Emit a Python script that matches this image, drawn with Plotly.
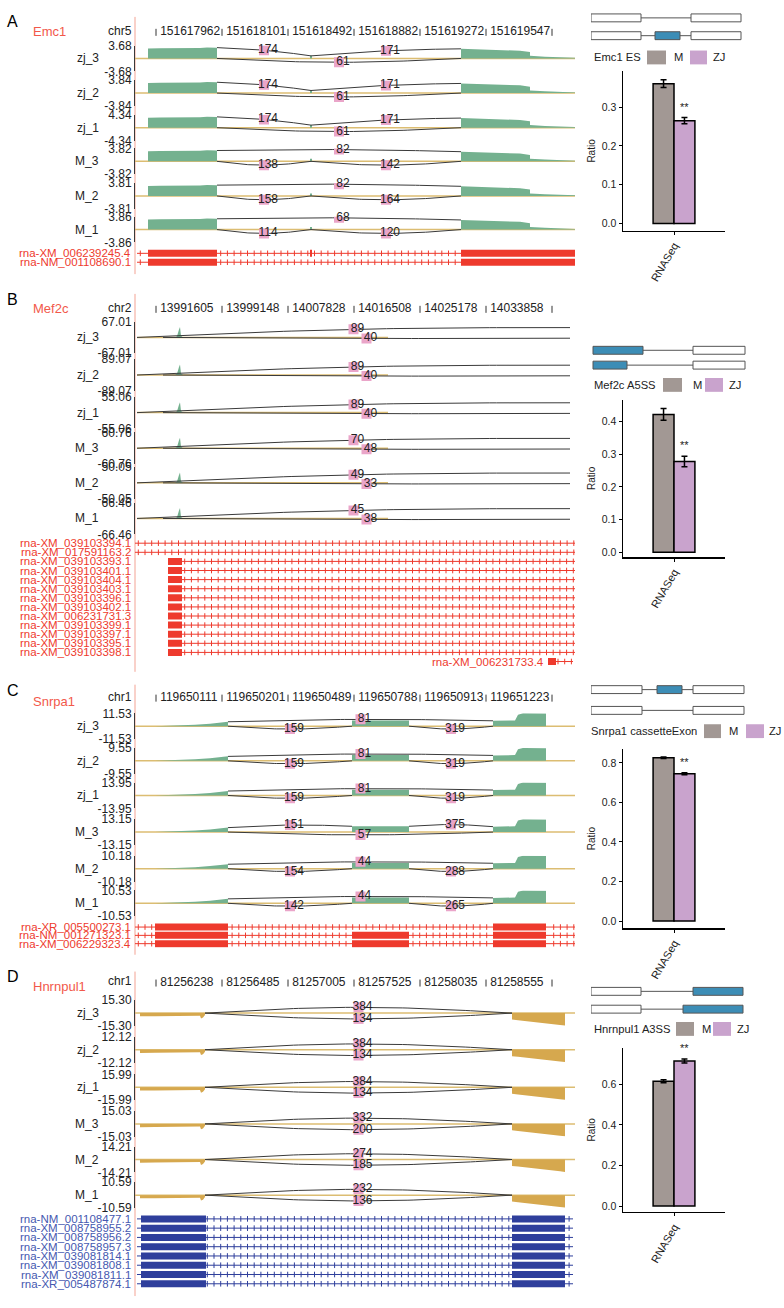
import numpy as np
import plotly.graph_objects as go

W, H = 784, 1308
FONT = "Liberation Sans, Arial, Helvetica, sans-serif"

samples = ["zj_3", "zj_2", "zj_1", "M_3", "M_2", "M_1"]
groups = ["M", "ZJ"]

# ---------------- Panel A : Emc1 (exon skipping) ----------------
A_gene = "Emc1"
A_chrom = "chr5"
A_ticks = ["151617962", "151618101", "151618492", "151618882", "151619272", "151619547", ""]
A_ymax = [3.68, 3.84, 4.34, 3.82, 3.81, 3.86]
A_cov_x = [13, 13, 25, 40, 55, 65, 72, 78, 82, 82, 175, 175, 177, 177, 326, 326, 340, 355, 370, 385, 395, 395, 410, 425, 440]
A_cov_f = [0, .78, .8, .79, .8, .82, .86, .85, .84, 0, 0, .2, .2, 0, 0, .75, .72, .7, .65, .6, .5, .2, .14, .1, .05]
A_junc = [(82, 176), (176, 326), (82, 326)]
A_counts = [[174, 171, 61], [174, 171, 61], [174, 171, 61], [138, 142, 82], [158, 164, 82], [114, 120, 68]]
A_sides = [[1, 1, -1]] * 3 + [[-1, -1, 1]] * 3
A_tx_names = ["rna-XM_006239245.4", "rna-NM_001108690.1"]
A_tx_span = [(2, 440), (2, 440)]
A_tx_exons = [[(13, 82), (175, 177), (326, 440)], [(13, 82), (326, 440)]]
A_event = "Emc1 ES"
A_ratio = [0.360, 0.265]
A_err = [0.010, 0.008]
A_schema = [[(0, 25, 0), (50, 75, 0)], [(0, 25, 0), (32, 44.5, 1), (50, 75, 0)]]

# ---------------- Panel B : Mef2c (A5SS) ----------------
B_gene = "Mef2c"
B_chrom = "chr2"
B_ticks = ["13991605", "13999148", "14007828", "14016508", "14025178", "14033858", ""]
B_ymax = [67.01, 89.07, 55.06, 60.76, 50.05, 66.46]
B_cov_x = [40, 42, 44, 45, 46, 48]
B_cov_f = [0, 0.08, 0.5, 0.66, 0.1, 0]
B_junc = [(2, 435), (28, 435)]
B_junc_h = [(0, 0.62), (0, -0.05)]
B_counts = [[89, 40], [89, 40], [89, 40], [70, 48], [49, 33], [45, 38]]
B_sides = [[1, -1]] * 6
B_tx_names = ["rna-XM_039103394.1", "rna-XM_017591163.2", "rna-XM_039103393.1", "rna-XM_039103401.1",
              "rna-XM_039103404.1", "rna-XM_039103403.1", "rna-XM_039103396.1", "rna-XM_039103402.1",
              "rna-XM_006231731.3", "rna-XM_039103399.1", "rna-XM_039103397.1", "rna-XM_039103395.1",
              "rna-XM_039103398.1", "rna-XM_006231733.4"]
B_tx_span = [(0, 440), (0, 440)] + [(33, 440)] * 11 + [(413, 438)]
B_tx_exons = [[], []] + [[(33, 47)]] * 11 + [[(413, 421)]]
B_tx_label_u = [-3] * 13 + [410]
B_event = "Mef2c A5SS"
B_ratio = [0.422, 0.278]
B_err = [0.018, 0.016]
B_schema = [[(1, 26, 1), (51, 77, 0)], [(1, 18, 1), (51, 77, 0)]]

# ---------------- Panel C : Snrpa1 (cassette exon) ----------------
C_gene = "Snrpa1"
C_chrom = "chr1"
C_ticks = ["119650111", "119650201", "119650489", "119650788", "119650913", "119651223", ""]
C_ymax = [11.53, 9.55, 13.95, 13.15, 10.18, 10.53]
C_cov_x = [20, 40, 60, 75, 88, 93, 93, 217, 217, 245, 274, 274, 358, 358, 380, 383, 388, 411, 411]
C_cov_f = [0, .05, .12, .2, .3, .35, 0, 0, .45, .47, .45, 0, 0, .42, .45, .9, 1.0, .98, 0]
C_junc = [(93, 358), (93, 217), (274, 358)]
C_counts = [[81, 159, 319], [81, 159, 319], [81, 159, 319], [57, 151, 375], [44, 154, 288], [44, 142, 265]]
C_sides = [[1, -1, -1]] * 3 + [[-1, 1, 1], [1, -1, -1], [1, -1, -1]]
C_tx_names = ["rna-XR_005500273.1", "rna-NM_001271323.1", "rna-XM_006229323.4"]
C_tx_span = [(0, 440)] * 3
C_tx_exons = [[(20, 93), (358, 411)], [(20, 93), (217, 274), (358, 411)], [(20, 93), (217, 274), (358, 411)]]
C_event = "Snrpa1 cassetteExon"
C_ratio = [0.826, 0.745]
C_err = [0.004, 0.005]
C_schema = [[(0, 25.5, 0), (33, 45.5, 1), (51, 76.5, 0)], [(0, 25.5, 0), (51, 76.5, 0)]]

# ---------------- Panel D : Hnrnpul1 (A3SS) ----------------
D_gene = "Hnrnpul1"
D_chrom = "chr1"
D_ticks = ["81256238", "81256485", "81257005", "81257525", "81258035", "81258555", ""]
D_ymax = [15.30, 12.12, 15.99, 15.03, 14.21, 10.59]
D_cov_x = [5, 5, 20, 40, 60, 65, 66, 68, 70, 70, 377, 377, 383, 390, 397, 404, 411, 418, 425, 430, 430]
D_cov_f = [0, -.25, -.24, -.2, -.18, -.2, -.42, -.35, -.15, 0, 0, -.5, -.55, -.62, -.68, -.75, -.8, -.86, -.92, -.96, 0]
D_junc = [(70, 377), (70, 377)]
D_counts = [[384, 134], [384, 134], [384, 134], [332, 200], [274, 185], [232, 136]]
D_sides = [[1, -1]] * 6
D_tx_names = ["rna-NM_001108477.1", "rna-XM_008758955.2", "rna-XM_008758956.2", "rna-XM_008758957.3",
              "rna-XM_039081814.1", "rna-XM_039081808.1", "rna-XM_039081811.1", "rna-XR_005487874.1"]
D_tx_span = [(2, 438)] * 8
D_tx_exons = [[(6, 71), (377, 430)]] * 8
D_event = "Hnrnpul1 A3SS"
D_ratio = [0.615, 0.715]
D_err = [0.007, 0.010]
D_schema = [[(0, 25, 0), (51, 76, 1)], [(0, 25, 0), (46, 76, 1)]]

# ---------------- styles ----------------
GREEN = "#74b18f"
TAN = "#dcbd72"
GOLD = "#d6a84e"
ARC = "#3a3a3a"
PINK = "#eaa5c9"
RED_TX = "#ee3a2d"
RED_GENE = "#f2584a"
BLUE_TX = "#2f3f9c"
BLUE_TXT = "#4558b0"
VLINE = "#f3a394"
BOX_BLUE = "#3c8db6"
BAR_COL = ["#a29894", "#c9a3cd"]
URANGE = [0, 440]
PX0, PX1 = 135, 575

panels = [
    dict(letter="A", gene=A_gene, chrom=A_chrom, ticks=A_ticks, ymax=A_ymax, cov_x=A_cov_x, cov_f=A_cov_f,
         junc=A_junc, counts=A_counts, sides=A_sides, tx_names=A_tx_names, tx_span=A_tx_span,
         tx_exons=A_tx_exons, event=A_event, ratio=A_ratio, err=A_err, schema=A_schema,
         cov_color=GREEN, tx_color=RED_TX, tx_text=RED_TX, bulge=(0.12, 0.3), base_span=(0, 440),
         pos=dict(letter=15, gene=25, header=24, base=[52, 87, 122, 156, 191, 225], half=13,
                  tx_top=249, tx_sp=9.0, vline=(10, 270), schema=(11, 29), legend=51,
                  leg_x=(593, 647, 666, 673, 690, 707, 712), bar=(65, 226), yr=(-0.018, 0.392), dtick=0.1)),
    dict(letter="B", gene=B_gene, chrom=B_chrom, ticks=B_ticks, ymax=B_ymax, cov_x=B_cov_x, cov_f=B_cov_f,
         junc=B_junc, junc_h=B_junc_h, counts=B_counts, sides=B_sides, tx_names=B_tx_names,
         tx_span=B_tx_span, tx_exons=B_tx_exons, tx_label_u=B_tx_label_u, event=B_event,
         ratio=B_ratio, err=B_err, schema=B_schema, cov_color=GREEN, tx_color=RED_TX, tx_text=RED_TX,
         bulge=(0.2, 0.04), base_span=(2, 253),
         pos=dict(letter=296, gene=305, header=304, base=[334, 372, 410, 446, 481, 517], half=16,
                  tx_top=542, tx_sp=9.2, vline=(290, 672), schema=(347, 362), legend=382,
                  leg_x=(593, 663, 682, 692, 705, 723, 728), bar=(397, 556), yr=(-0.015, 0.467), dtick=0.1)),
    dict(letter="C", gene=C_gene, chrom=C_chrom, ticks=C_ticks, ymax=C_ymax, cov_x=C_cov_x, cov_f=C_cov_f,
         junc=C_junc, counts=C_counts, sides=C_sides, tx_names=C_tx_names, tx_span=C_tx_span,
         tx_exons=C_tx_exons, event=C_event, ratio=C_ratio, err=C_err, schema=C_schema,
         cov_color=GREEN, tx_color=RED_TX, tx_text=RED_TX, bulge=(0.15, 0.22), base_span=(0, 440),
         pos=dict(letter=691, gene=702, header=697, base=[727, 762, 797, 834, 871, 906], half=13,
                  tx_top=930, tx_sp=8.4, vline=(685, 958), schema=(690, 711), legend=732,
                  leg_x=(590, 704, 721, 728, 746, 764, 768), bar=(750, 931), yr=(-0.035, 0.87), dtick=0.2)),
    dict(letter="D", gene=D_gene, chrom=D_chrom, ticks=D_ticks, ymax=D_ymax, cov_x=D_cov_x, cov_f=D_cov_f,
         junc=D_junc, counts=D_counts, sides=D_sides, tx_names=D_tx_names, tx_span=D_tx_span,
         tx_exons=D_tx_exons, event=D_event, ratio=D_ratio, err=D_err, schema=D_schema,
         cov_color=GOLD, tx_color=BLUE_TX, tx_text=BLUE_TXT, bulge=(0.45, 0.45), base_span=(0, 440),
         pos=dict(letter=980, gene=990, header=985, base=[1017, 1054, 1092, 1129, 1165, 1201], half=13,
                  tx_top=1225, tx_sp=9.37, vline=(975, 1303), schema=(995, 1013), legend=1033,
                  leg_x=(593, 676, 694, 701, 713, 731, 736), bar=(1052, 1218), yr=(-0.029, 0.78), dtick=0.2)),
]

fig = go.Figure()
layout = {}
annotations = []
shapes = []
counter = [0]


def clamp(v):
    return min(1.0, max(0.0, v))


def px2x(p):
    return p / W


def px2y(p):
    return 1 - p / H


def new_axes(xdom_px, ydom_px, xr, yr, xa_extra=None, ya_extra=None):
    counter[0] += 1
    n = counter[0]
    xk = "xaxis" if n == 1 else f"xaxis{n}"
    yk = "yaxis" if n == 1 else f"yaxis{n}"
    xn = "x" if n == 1 else f"x{n}"
    yn = "y" if n == 1 else f"y{n}"
    xa = dict(domain=[clamp(xdom_px[0] / W), clamp(xdom_px[1] / W)], range=list(xr), anchor=yn,
              visible=False, fixedrange=True, showgrid=False, zeroline=False)
    ya = dict(domain=[clamp(1 - ydom_px[1] / H), clamp(1 - ydom_px[0] / H)], range=list(yr), anchor=xn,
              visible=False, fixedrange=True, showgrid=False, zeroline=False)
    if xa_extra:
        xa.update(xa_extra)
    if ya_extra:
        ya.update(ya_extra)
    layout[xk] = xa
    layout[yk] = ya
    return xn, yn


def text_ann(text, xp, yp, anchor="left", size=12, color="#222"):
    annotations.append(dict(text=text, x=px2x(xp), y=px2y(yp), xref="paper", yref="paper",
                            xanchor=anchor, yanchor="middle", showarrow=False, borderpad=0,
                            font=dict(size=size, color=color, family=FONT)))


def cov_at(P, x):
    return float(np.interp(x, P["cov_x"], P["cov_f"]))


tick_u = [21 + 66 * i for i in range(7)]

for P in panels:
    pos = P["pos"]
    text_ann(P["letter"], 6, pos["letter"], size=16, color="black")
    text_ann(P["gene"], 32, pos["gene"], size=13, color=RED_GENE)
    text_ann(P["chrom"], 133, pos["header"], anchor="right", size=12)
    shapes.append(dict(type="line", xref="paper", yref="paper", x0=px2x(PX0), x1=px2x(PX0),
                       y0=px2y(pos["vline"][0]), y1=px2y(pos["vline"][1]),
                       line=dict(color=VLINE, width=1), layer="below"))

    # header coordinate ticks
    xn, yn = new_axes((PX0, PX1), (pos["header"] - 8, pos["header"] + 8), URANGE, (-1, 1))
    fig.add_trace(go.Scatter(x=tick_u, y=[-0.2] * len(tick_u), mode="markers+text", text=P["ticks"],
                             textposition="middle right", cliponaxis=False,
                             textfont=dict(size=12, color="#222", family=FONT),
                             marker=dict(symbol="line-ns-open", size=5, color="#333",
                                         line=dict(width=1, color="#333")),
                             xaxis=xn, yaxis=yn, hoverinfo="skip"))

    # sashimi tracks
    bu, bd = P["bulge"]
    for i, s in enumerate(samples):
        ymax = P["ymax"][i]
        base = pos["base"][i]
        half = pos["half"]
        xn, yn = new_axes((PX0, PX1), (base - half, base + half), URANGE, (-ymax, ymax),
                          ya_extra=dict(visible=True, showline=True, linecolor="#3a3a3a", linewidth=1,
                                        ticks="", tickvals=[-ymax, ymax],
                                        ticktext=[f"-{ymax:.2f}", f"{ymax:.2f}"],
                                        tickfont=dict(size=12, color="#222", family=FONT)))
        text_ann(s, 100, base, anchor="right", size=12)
        b0, b1 = P["base_span"]
        fig.add_trace(go.Scatter(x=[b0, b1], y=[0, 0], mode="lines", line=dict(color=TAN, width=1.5),
                                 xaxis=xn, yaxis=yn, hoverinfo="skip"))
        cy = [f * ymax for f in P["cov_f"]]
        fig.add_trace(go.Scatter(x=P["cov_x"], y=cy, mode="lines", fill="tozeroy",
                                 fillcolor=P["cov_color"], line=dict(width=0, color=P["cov_color"]),
                                 xaxis=xn, yaxis=yn, hoverinfo="skip"))
        lx, ly, tx, ty, tt = [], [], [], [], []
        ax_, ay_ = [], []
        for j, (xs, xe) in enumerate(P["junc"]):
            side = P["sides"][i][j]
            if "junc_h" in P:
                h0, h1 = P["junc_h"][j]
                b = bu if side > 0 else bd
            elif side > 0:
                h0 = max(cov_at(P, xs - 0.5), 0)
                h1 = max(cov_at(P, xe + 0.5), 0)
                b = bu
            else:
                h0 = h1 = 0.0
                b = bd
            t = np.linspace(0, 1, 60)
            xx = xs + (xe - xs) * t
            yy = (h0 + (h1 - h0) * t + side * b * np.sin(np.pi * t)) * ymax
            ax_ += list(xx) + [None]
            ay_ += list(yy) + [None]
            xm = (xs + xe) / 2
            ym = ((h0 + h1) / 2 + side * b) * ymax
            lx.append(xm)
            ly.append(ym)
            tx.append(xm + 4)
            ty.append(ym)
            tt.append(str(P["counts"][i][j]))
        fig.add_trace(go.Scatter(x=ax_, y=ay_, mode="lines", line=dict(color=ARC, width=1),
                                 xaxis=xn, yaxis=yn, hoverinfo="skip"))
        fig.add_trace(go.Scatter(x=lx, y=ly, mode="markers",
                                 marker=dict(symbol="square", size=10, color=PINK),
                                 xaxis=xn, yaxis=yn, hoverinfo="skip"))
        fig.add_trace(go.Scatter(x=tx, y=ty, mode="text", text=tt, cliponaxis=False,
                                 textfont=dict(size=12, color="#222", family=FONT),
                                 xaxis=xn, yaxis=yn, hoverinfo="skip"))

    # transcripts
    nt = len(P["tx_names"])
    sp = pos["tx_sp"]
    top = pos["tx_top"]
    xn, yn = new_axes((PX0, PX1), (top - sp / 2, top + (nt - 0.5) * sp), URANGE, (nt - 0.5, -0.5))
    lx, ly, ex, ey, mx, my = [], [], [], [], [], []
    for r in range(nt):
        s0, s1 = P["tx_span"][r]
        lx += [s0, s1, None]
        ly += [r, r, None]
        exons = P["tx_exons"][r]
        for (e0, e1) in exons:
            ex += [e0, e1, None]
            ey += [r, r, None]
        for a in np.arange(s0 + 3.3, s1 - 1, 6.7):
            if not any(e0 - 1 <= a <= e1 + 1 for (e0, e1) in exons):
                mx.append(a)
                my.append(r)
        lab_u = P.get("tx_label_u", [-3] * nt)[r]
        text_ann(P["tx_names"][r], PX0 + lab_u, top + r * sp, anchor="right", size=11.5, color=P["tx_text"])
    fig.add_trace(go.Scatter(x=lx, y=ly, mode="lines", line=dict(color=P["tx_color"], width=1),
                             xaxis=xn, yaxis=yn, hoverinfo="skip"))
    fig.add_trace(go.Scatter(x=mx, y=my, mode="markers",
                             marker=dict(symbol="line-ns-open", size=4, color=P["tx_color"],
                                         line=dict(width=1, color=P["tx_color"])),
                             xaxis=xn, yaxis=yn, hoverinfo="skip"))
    fig.add_trace(go.Scatter(x=ex, y=ey, mode="lines", line=dict(color=P["tx_color"], width=7),
                             xaxis=xn, yaxis=yn, hoverinfo="skip"))

    # event schematic
    r0, r1 = pos["schema"]
    ssp = r1 - r0
    xn, yn = new_axes((591, 751), (r0 - 6, r1 + 6), (0, 80), (1 + 6 / ssp, -6 / ssp))
    hh = 4 / ssp
    for r, row in enumerate(P["schema"]):
        shapes.append(dict(type="line", xref=xn, yref=yn, x0=row[0][1], x1=row[-1][0], y0=r, y1=r,
                           line=dict(color="#555", width=1)))
        for (b0, b1, blue) in row:
            shapes.append(dict(type="rect", xref=xn, yref=yn, x0=b0, x1=b1, y0=r - hh, y1=r + hh,
                               fillcolor=BOX_BLUE if blue else "white", line=dict(color="#555", width=1)))

    # legend
    lgx = pos["leg_x"]
    ly0 = pos["legend"]
    text_ann(P["event"], lgx[0], ly0, size=11.2)
    shapes.append(dict(type="rect", xref="paper", yref="paper", x0=px2x(lgx[1]), x1=px2x(lgx[2]),
                       y0=px2y(ly0 - 7), y1=px2y(ly0 + 7), fillcolor=BAR_COL[0], line=dict(width=0)))
    text_ann("M", lgx[3], ly0, size=11.2)
    shapes.append(dict(type="rect", xref="paper", yref="paper", x0=px2x(lgx[4]), x1=px2x(lgx[5]),
                       y0=px2y(ly0 - 7), y1=px2y(ly0 + 7), fillcolor=BAR_COL[1], line=dict(width=0)))
    text_ann("ZJ", lgx[6], ly0, size=11.2)

    # bar chart
    xn, yn = new_axes((623, 725), pos["bar"], (-0.5, 0.5), pos["yr"],
                      xa_extra=dict(visible=True, type="category", showline=True, linecolor="black",
                                    linewidth=1.5, ticks="outside", ticklen=3, tickcolor="black",
                                    tickangle=-60, tickfont=dict(size=11, color="#222", family=FONT)),
                      ya_extra=dict(visible=True, showline=True, linecolor="black", linewidth=1.5,
                                    ticks="outside", ticklen=3, tickcolor="black", dtick=pos["dtick"],
                                    tick0=0, tickformat=".1f",
                                    tickfont=dict(size=10.5, color="#222", family=FONT),
                                    title=dict(text="Ratio", font=dict(size=10, color="#222", family=FONT),
                                               standoff=4)))
    for k, g in enumerate(groups):
        fig.add_trace(go.Bar(x=["RNASeq"], y=[P["ratio"][k]], offsetgroup=g, name=g,
                             marker=dict(color=BAR_COL[k], line=dict(color="black", width=1.5)),
                             error_y=dict(type="data", array=[P["err"][k]], color="black",
                                          thickness=1.5, width=3),
                             xaxis=xn, yaxis=yn, showlegend=False, hoverinfo="skip"))
    annotations.append(dict(text="**", x=0, y=P["ratio"][1] + P["err"][1], xref=xn, yref=yn,
                            xshift=10.5, yshift=3, xanchor="center", yanchor="bottom", showarrow=False,
                            font=dict(size=11, color="#222", family=FONT)))

fig.update_layout(**layout)
fig.update_layout(width=W, height=H, autosize=False, margin=dict(l=0, r=0, t=0, b=0),
                  paper_bgcolor="white", plot_bgcolor="rgba(0,0,0,0)", showlegend=False,
                  barmode="group", bargap=0.59, bargroupgap=0,
                  font=dict(family=FONT, size=12, color="#222"),
                  annotations=annotations, shapes=shapes)
fig.write_html("out.html", config={"displayModeBar": False, "staticPlot": True},
               post_script="document.body.style.margin='0';document.body.style.overflow='hidden';")
